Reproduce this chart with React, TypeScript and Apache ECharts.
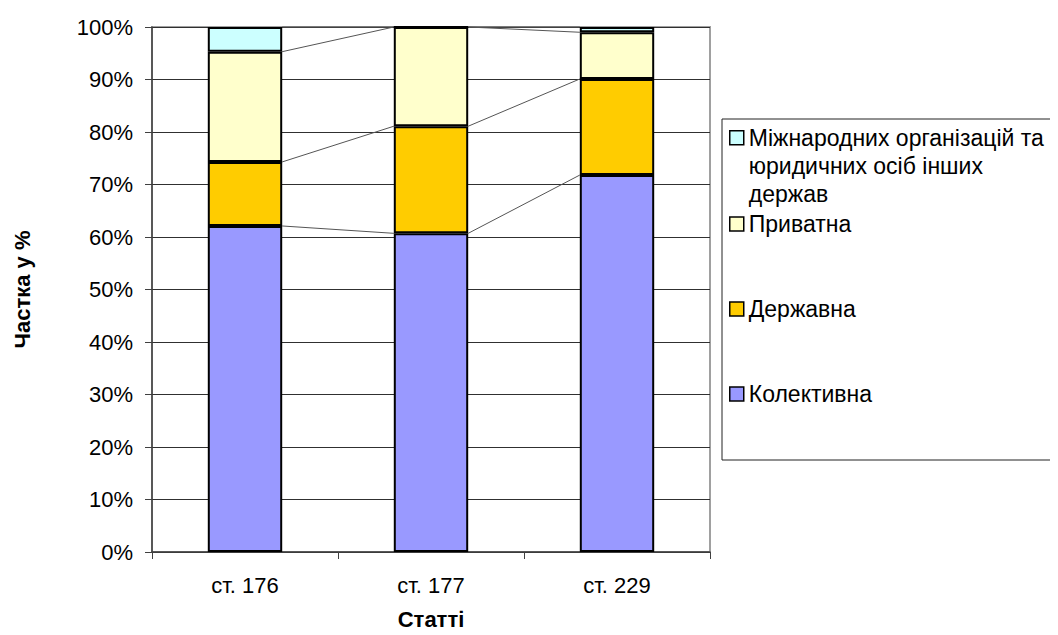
import React, { useEffect, useRef } from "react";
import * as echarts from "echarts";

const categories = ["ст. 176", "ст. 177", "ст. 229"];
const seriesNames = [
  "Колективна",
  "Державна",
  "Приватна",
  "Міжнародних організацій та юридичних осіб інших держав",
];
const kolektyvna = [62.1, 60.7, 71.8];
const derzhavna = [12.2, 20.4, 18.3];
const pryvatna = [21.0, 18.9, 8.9];
const mizhnarodnykh = [4.7, 0.0, 1.0];
const colors = ["#9999FF", "#FFCC00", "#FFFFCC", "#CCFFFF"];
const yTicks = [0, 10, 20, 30, 40, 50, 60, 70, 80, 90, 100];
const legendLines: Record<string, string> = {
  "Міжнародних організацій та юридичних осіб інших держав":
    "Міжнародних організацій та\nюридичних осіб інших\nдержав",
};

const FONT = "'Liberation Sans', Arial, sans-serif";

export default function App() {
  const ref = useRef<HTMLDivElement>(null);
  useEffect(() => {
    if (!ref.current) return;
    const chart = echarts.init(ref.current, undefined, { renderer: "svg" });
    const values = [kolektyvna, derzhavna, pryvatna, mizhnarodnykh];

    // cumulative tops of each segment
    const cum: number[][] = [];
    values.forEach((arr, s) => {
      cum.push(arr.map((v, i) => (s === 0 ? v : cum[s - 1][i] + v)));
    });
    const linkData: number[][] = [];
    for (let s = 0; s < values.length; s++) {
      for (let i = 0; i < categories.length - 1; i++) {
        linkData.push([i, cum[s][i], cum[s][i + 1]]);
      }
    }

    const barSeries = seriesNames.map((name, s) => ({
      name,
      type: "bar",
      stack: "total",
      barWidth: "40%",
      data: values[s],
      itemStyle: { color: colors[s], borderColor: "#000", borderWidth: 2 },
      z: 3,
    }));

    const legendTops = [123, 210, 295, 380];
    const legendOrder = [3, 2, 1, 0];
    const legends = legendOrder.map((s, k) => {
      const multi = !!legendLines[seriesNames[s]];
      return {
        data: [seriesNames[s]],
        left: 729,
        top: legendTops[k],
        padding: 0,
        orient: "vertical",
        itemWidth: 14,
        itemHeight: multi ? 84 : 14,
        icon: multi ? "path://M0,0M0,7h14v14h-14zM0,84" : "rect",
        itemStyle: { borderColor: "#000", borderWidth: 1.5 },
        selectedMode: false,
        formatter: (n: string) => legendLines[n] || n,
        textStyle: {
          fontFamily: FONT,
          fontSize: 23,
          lineHeight: 28,
          color: "#000",
        },
      };
    });

    chart.setOption({
      animation: false,
      backgroundColor: "#fff",
      grid: {
        left: 152,
        right: 348,
        top: 27,
        bottom: 83,
        show: true,
        borderColor: "#a0a0a0",
        borderWidth: 2,
        backgroundColor: "transparent",
      },
      legend: legends,
      graphic: [
        {
          type: "rect",
          shape: { x: 722, y: 119, width: 350, height: 341 },
          style: { fill: "none", stroke: "#222", lineWidth: 1 },
          silent: true,
        },
      ],
      xAxis: {
        type: "category",
        data: categories,
        name: "Статті",
        nameLocation: "middle",
        nameGap: 56,
        nameTextStyle: {
          fontFamily: FONT,
          fontSize: 22,
          fontWeight: "bold",
          color: "#000",
        },
        axisLine: { lineStyle: { color: "#404040", width: 1.5 } },
        axisTick: { show: true, length: 7, lineStyle: { color: "#404040" } },
        axisLabel: {
          fontFamily: FONT,
          fontSize: 22,
          color: "#000",
          margin: 22,
        },
        splitLine: { show: false },
      },
      yAxis: {
        type: "value",
        min: 0,
        max: 100,
        interval: 10,
        name: "Частка у %",
        nameLocation: "middle",
        nameGap: 119,
        nameTextStyle: {
          fontFamily: FONT,
          fontSize: 22,
          fontWeight: "bold",
          color: "#000",
        },
        axisLine: { show: true, lineStyle: { color: "#404040", width: 1.5 } },
        axisTick: { show: true, length: 7, lineStyle: { color: "#404040" } },
        axisLabel: {
          fontFamily: FONT,
          fontSize: 22,
          color: "#000",
          margin: 19,
          customValues: yTicks,
          formatter: (v: number) => v + "%",
        },
        splitLine: { show: true, lineStyle: { color: "#303030", width: 1 } },
      },
      series: [
        ...barSeries,
        {
          type: "custom",
          name: "series-lines",
          data: linkData,
          z: 2,
          silent: true,
          renderItem: (params: any, api: any) => {
            const i = api.value(0);
            const a = api.value(1);
            const b = api.value(2);
            const p1 = api.coord([i, a]);
            const p2 = api.coord([i + 1, b]);
            const half = api.size([1, 0])[0] * 0.2;
            return {
              type: "line",
              shape: { x1: p1[0] + half, y1: p1[1], x2: p2[0] - half, y2: p2[1] },
              style: { stroke: "#555", lineWidth: 1 },
            };
          },
        },
      ],
    });
    return () => chart.dispose();
  }, []);
  return <div ref={ref} style={{ width: 1058, height: 635, margin: -8 }} />;
}
